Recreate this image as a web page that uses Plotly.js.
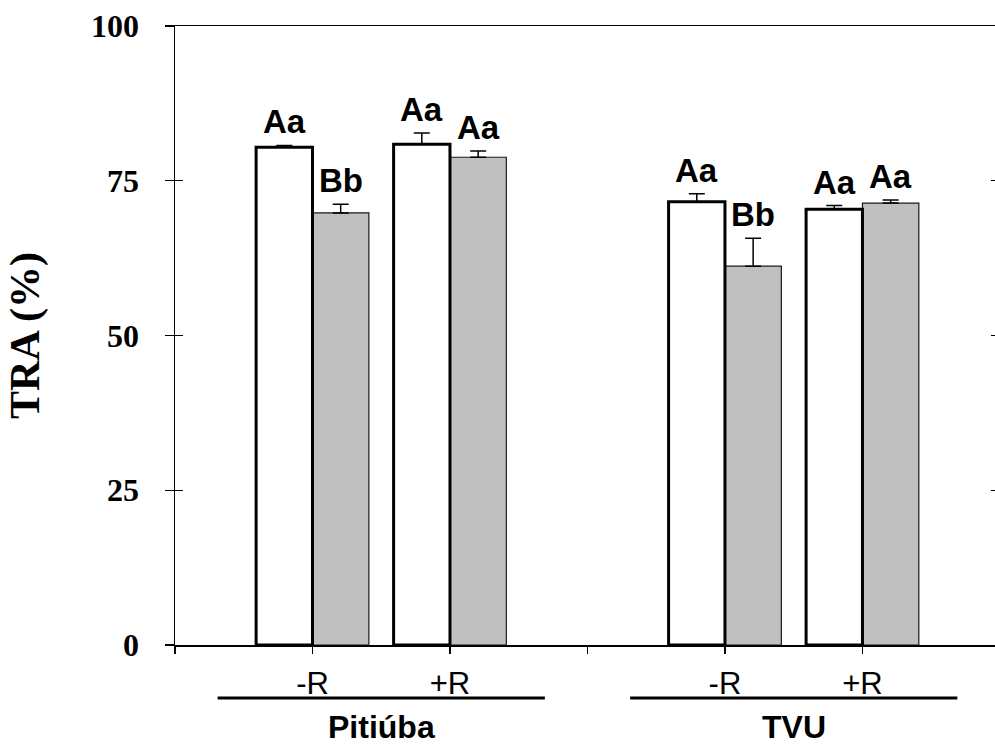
<!DOCTYPE html>
<html>
<head>
<meta charset="utf-8">
<script src="https://cdn.plot.ly/plotly-3.0.1.min.js"></script>
<style>
  html, body { margin: 0; padding: 0; background: #fff; }
  #chart { width: 995px; height: 749px; }
</style>
</head>
<body>
<div id="chart"></div>
<script>
// Cultivars and treatments
const groups = ['Pitiúba', 'TVU'];
const treatments = ['-R', '+R'];

// TRA (%) means and upper standard errors, ordered Pitiúba -R, Pitiúba +R, TVU -R, TVU +R
const whiteMeans = [80.4, 80.9, 71.6, 70.4];
const whiteErr = [0.3, 1.8, 1.3, 0.6];
const grayMeans = [69.8, 78.8, 61.2, 71.4];
const grayErr = [1.4, 1.0, 4.5, 0.5];

// Significance letters above each bar
const whiteLetters = ['Aa', 'Aa', 'Aa', 'Aa'];
const grayLetters = ['Bb', 'Aa', 'Bb', 'Aa'];

// Y-axis ticks
const yTicks = [0, 25, 50, 75, 100];

// ---- layout helpers ----
// Each cultivar occupies three slots on a linear axis: -R, +R, then a spacer.
const slotOf = (g, t) => g * (treatments.length + 1) + t + 1;
const xCats = [];
groups.forEach((g, gi) => treatments.forEach((t, ti) => xCats.push(slotOf(gi, ti))));
const nSlots = groups.length * (treatments.length + 1);

const BAR_W = 0.41;
const xRangeMax = 5.964;

const tickVals = [];
const tickText = [];
for (let i = 0; i <= nSlots; i++) {
  tickVals.push(i);
  const k = i - 1;
  const within = ((k % (treatments.length + 1)) + (treatments.length + 1)) % (treatments.length + 1);
  tickText.push(k >= 0 && within < treatments.length ? treatments[within] : '');
}

const zeros = xCats.map(() => 0);

const grayTrace = {
  type: 'bar',
  x: xCats,
  y: grayMeans,
  width: BAR_W,
  offset: 0,
  marker: { color: '#c0c0c0', line: { color: '#1a1a1a', width: 1.2 } },
  error_y: {
    type: 'data', symmetric: false, array: grayErr, arrayminus: zeros,
    color: '#000', thickness: 1.5, width: 8
  },
  hoverinfo: 'skip',
  showlegend: false
};

const whiteTrace = {
  type: 'bar',
  x: xCats,
  y: whiteMeans,
  width: BAR_W,
  offset: -BAR_W,
  marker: { color: '#ffffff', line: { color: '#000', width: 3 } },
  error_y: {
    type: 'data', symmetric: false, array: whiteErr, arrayminus: zeros,
    color: '#000', thickness: 1.5, width: 8
  },
  hoverinfo: 'skip',
  showlegend: false
};

const letterFont = { family: 'Arial, "Liberation Sans", sans-serif', size: 33, color: '#000' };
const annotations = [];
xCats.forEach((x, i) => {
  annotations.push({
    x: x - BAR_W / 2, y: whiteMeans[i] + whiteErr[i], xref: 'x', yref: 'y',
    text: '<b>' + whiteLetters[i] + '</b>', showarrow: false,
    xanchor: 'center', yanchor: 'bottom', yshift: 3, font: letterFont
  });
  annotations.push({
    x: x + BAR_W / 2, y: grayMeans[i] + grayErr[i], xref: 'x', yref: 'y',
    text: '<b>' + grayLetters[i] + '</b>', showarrow: false,
    xanchor: 'center', yanchor: 'bottom', yshift: 3, font: letterFont
  });
});

// Cultivar names with an underline spanning each pair of treatments
const shapes = [];
groups.forEach((g, gi) => {
  const c = (slotOf(gi, 0) + slotOf(gi, treatments.length - 1)) / 2;
  shapes.push({
    type: 'line', xref: 'x', yref: 'paper',
    x0: c - 1.19, x1: c + 1.19, y0: -0.0856, y1: -0.0856,
    line: { color: '#000', width: 3 }
  });
  annotations.push({
    x: c, y: -0.133, xref: 'x', yref: 'paper',
    text: '<b>' + g + '</b>', showarrow: false,
    xanchor: 'center', yanchor: 'middle',
    font: { family: 'Arial, "Liberation Sans", sans-serif', size: 32, color: '#000' }
  });
});

const serifBold = { family: '"Times New Roman", "Liberation Serif", serif', size: 32, color: '#000', weight: 'bold' };

const layout = {
  width: 995,
  height: 749,
  margin: { l: 175, r: 0, t: 26, b: 104, pad: 0 },
  paper_bgcolor: '#fff',
  plot_bgcolor: '#fff',
  barmode: 'overlay',
  xaxis: {
    type: 'linear',
    range: [0, xRangeMax],
    tickvals: tickVals,
    ticktext: tickText,
    ticks: 'outside', ticklen: 7, tickwidth: 1.2, tickcolor: '#000',
    showline: true, linecolor: '#000', linewidth: 1.5, mirror: true,
    showgrid: false, zeroline: false,
    tickfont: { family: 'Arial, "Liberation Sans", sans-serif', size: 31, color: '#000' },
    ticklabelstandoff: 3
  },
  yaxis: {
    range: [0, 100],
    tickvals: yTicks,
    ticks: 'outside', ticklen: 9, tickwidth: 1.2, tickcolor: '#000',
    showline: true, linecolor: '#000', linewidth: 1.5,
    showgrid: false, zeroline: false,
    tickfont: serifBold,
    ticklabelstandoff: 19,
    title: { text: '<b>TRA (%)</b>', font: { family: '"Times New Roman", "Liberation Serif", serif', size: 42, color: '#000' }, standoff: 38 }
  },
  // inner half of the crossing ticks on the left axis
  yaxis2: {
    overlaying: 'y', side: 'left', anchor: 'x',
    range: [0, 100], tickvals: yTicks,
    ticks: 'inside', ticklen: 8, tickwidth: 1.2, tickcolor: '#000',
    showticklabels: false, showline: false, showgrid: false, zeroline: false
  },
  // tick marks along the right edge
  yaxis3: {
    overlaying: 'y', side: 'right', anchor: 'free', position: 1,
    range: [0, 100], tickvals: [25, 50, 75],
    ticks: 'inside', ticklen: 4, tickwidth: 1.2, tickcolor: '#000',
    showticklabels: false, showline: false, showgrid: false, zeroline: false
  },
  shapes: shapes,
  annotations: annotations,
  showlegend: false
};

// placeholder traces so the overlay axes are drawn
const axisHolder2 = { type: 'scatter', x: [0], y: [0], yaxis: 'y2', mode: 'none', hoverinfo: 'skip', showlegend: false };
const axisHolder3 = { type: 'scatter', x: [0], y: [0], yaxis: 'y3', mode: 'none', hoverinfo: 'skip', showlegend: false };

Plotly.newPlot('chart', [grayTrace, whiteTrace, axisHolder2, axisHolder3], layout, { staticPlot: true, displayModeBar: false });
</script>
</body>
</html>
